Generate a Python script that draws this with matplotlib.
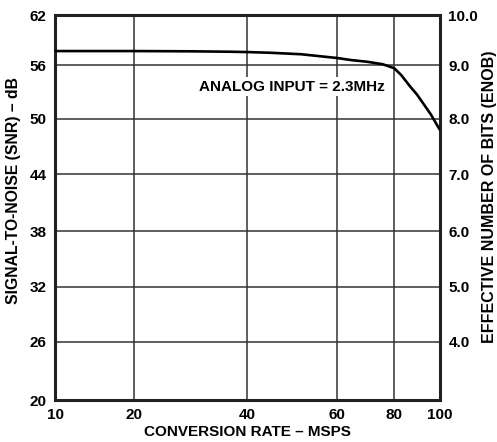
import numpy as np
import matplotlib
matplotlib.use('Agg')
import matplotlib.pyplot as plt

plt.rcParams['font.family'] = ['Liberation Sans', 'DejaVu Sans']
plt.rcParams['font.weight'] = 'bold'
plt.rcParams['axes.labelweight'] = 'bold'
plt.rcParams['font.size'] = 11

# data
rate = [10, 20, 30, 37, 40, 45, 52, 60, 65, 70.5, 76, 80, 83, 87, 90, 93, 96, 99, 100]
snr = [57.68, 57.68, 57.65, 57.6, 57.56, 57.48, 57.3, 56.85, 56.6, 56.4, 56.1, 55.65,
       54.9, 53.6, 52.7, 51.6, 50.5, 49.2, 48.8]

rate_ticks = [10, 20, 40, 60, 80, 100]
snr_ticks = [20, 26, 32, 38, 44, 50, 56, 62]
enob_ticks = [4.0, 5.0, 6.0, 7.0, 8.0, 9.0, 10.0]

# the grid in the original is not evenly spaced, so map values to
# the fractional positions the gridlines sit at
x_pos = [0.0, 0.205, 0.499, 0.732, 0.881, 1.0]
y_pos = [0.0, 0.151, 0.294, 0.439, 0.587, 0.730, 0.870, 1.0]


def make_scale(vals, pos):
    fwd = lambda v: np.interp(v, vals, pos)
    inv = lambda p: np.interp(p, pos, vals)
    return fwd, inv


fig = plt.figure(figsize=(4.97, 4.42), dpi=100)
ax = fig.add_axes([0.1107, 0.095, 0.7747, 0.871])

ax.set_xscale('function', functions=make_scale(rate_ticks, x_pos))
ax.set_yscale('function', functions=make_scale(snr_ticks, y_pos))
ax.set_xlim(10, 100)
ax.set_ylim(20, 62)

ax.plot(rate, snr, color='black', lw=1.9, zorder=3, solid_capstyle='butt')

ax.set_xticks(rate_ticks)
ax.set_xticklabels([str(v) for v in rate_ticks])
ax.set_yticks(snr_ticks)
ax.set_yticklabels([str(v) for v in snr_ticks])
ax.grid(True, color='#333333', lw=1.1)
ax.tick_params(length=0, pad=6)

for s in ax.spines.values():
    s.set_linewidth(2.2)
    s.set_color('#222222')

ax2 = ax.twinx()
ax2.set_yscale('function', functions=make_scale(snr_ticks, y_pos))
ax2.set_ylim(20, 62)
ax2.set_yticks(snr_ticks[1:])
ax2.set_yticklabels(['%.1f' % v for v in enob_ticks])
ax2.tick_params(length=0, pad=6)
for s in ax2.spines.values():
    s.set_visible(False)

ax.set_xlabel('CONVERSION RATE – MSPS', labelpad=2)
ax.set_ylabel('SIGNAL-TO-NOISE (SNR) – dB', labelpad=6, fontsize=11.3)
ax.yaxis.label.set_y(0.543)
ax2.set_ylabel('EFFECTIVE NUMBER OF BITS (ENOB)', labelpad=3, fontsize=11.5)
ax2.yaxis.label.set_y(0.527)

ax.text(50, 53.6, 'ANALOG INPUT = 2.3MHz', ha='center', va='center', zorder=4,
        bbox=dict(facecolor='white', edgecolor='none', pad=2))

fig.savefig('out.png', dpi=100)
